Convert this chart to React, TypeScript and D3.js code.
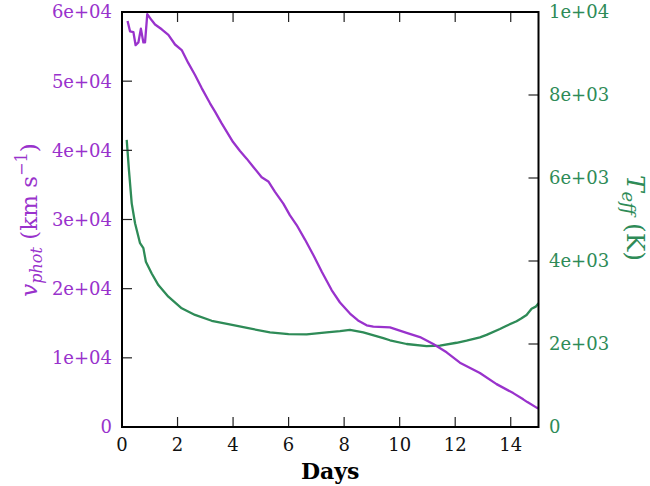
import React from "react";
import * as d3 from "d3";

// v_phot (left axis, km/s)
const vDays = [0.2, 0.29, 0.41, 0.49, 0.59, 0.68, 0.77, 0.83, 0.91, 1.07, 1.19, 1.43, 1.67, 1.91, 2.15, 2.39, 2.63, 2.87, 3.17, 3.35, 3.59, 4.0, 4.25, 4.49, 4.73, 5.03, 5.27, 5.51, 5.81, 6.05, 6.29, 6.59, 6.9, 7.2, 7.55, 7.85, 8.21, 8.5, 8.81, 9.05, 9.65, 10.25, 10.73, 11.21, 11.69, 12.17, 12.89, 13.49, 14.09, 14.45, 14.6, 14.93, 15.0];
const vValues = [58700, 57200, 57100, 55200, 55600, 57600, 55600, 55600, 59700, 58800, 58200, 57500, 56700, 55300, 54500, 52600, 50900, 49000, 46800, 45600, 43900, 41200, 39900, 38800, 37600, 36100, 35500, 34000, 32300, 30600, 29200, 27100, 24800, 22400, 19800, 18000, 16400, 15400, 14700, 14500, 14400, 13600, 13000, 12000, 10800, 9300, 7800, 6200, 4900, 4000, 3600, 2800, 2700];

// T_eff (right axis, K)
const tDays = [0.17, 0.25, 0.35, 0.47, 0.65, 0.77, 0.86, 1.07, 1.31, 1.67, 2.15, 2.63, 3.23, 3.83, 4.55, 5.33, 6.0, 6.65, 7.37, 7.85, 8.21, 8.69, 9.41, 9.65, 10.25, 10.97, 11.45, 12.05, 12.41, 12.89, 13.13, 13.61, 13.85, 14.21, 14.39, 14.57, 14.75, 14.9, 15.0];
const tValues = [6920, 6190, 5390, 4910, 4430, 4310, 3980, 3700, 3420, 3140, 2860, 2700, 2560, 2480, 2380, 2280, 2240, 2230, 2280, 2310, 2340, 2280, 2140, 2090, 2000, 1950, 1960, 2030, 2080, 2160, 2220, 2360, 2440, 2550, 2620, 2700, 2850, 2900, 2980];

const xTicks = [0, 2, 4, 6, 8, 10, 12, 14];
const leftTicks = [0, 10000, 20000, 30000, 40000, 50000, 60000];
const leftTickLabels = ["0", "1e+04", "2e+04", "3e+04", "4e+04", "5e+04", "6e+04"];
const rightTicks = [0, 2000, 4000, 6000, 8000, 10000];
const rightTickLabels = ["0", "2e+03", "4e+03", "6e+03", "8e+03", "1e+04"];

const PURPLE = "#9932CC";
const GREEN = "#2E8B57";
const FONT = "'DejaVu Serif', serif";

export default function App() {
  const W = 650, H = 486;
  const L = 122, R = 538.5, T = 12, B = 427;
  const x = d3.scaleLinear().domain([0, 15]).range([L, R]);
  const yL = d3.scaleLinear().domain([0, 60000]).range([B, T]);
  const yR = d3.scaleLinear().domain([0, 10000]).range([B, T]);

  const vLine = d3.line<number>().x((_, i) => x(vDays[i])).y((d) => yL(d));
  const tLine = d3.line<number>().x((_, i) => x(tDays[i])).y((d) => yR(d));

  return (
    <svg width={W} height={H} style={{ position: "absolute", left: 0, top: 0, background: "#fff" }} fontFamily={FONT}>
      <rect x={0} y={0} width={W} height={H} fill="#fff" />
      <path d={tLine(tValues) || ""} fill="none" stroke={GREEN} strokeWidth={2.3} strokeLinejoin="round" />
      <path d={vLine(vValues) || ""} fill="none" stroke={PURPLE} strokeWidth={2.3} strokeLinejoin="round" />

      {/* x ticks top & bottom */}
      {xTicks.map((t) => (
        <g key={"x" + t}>
          <line x1={x(t)} x2={x(t)} y1={B} y2={B - 10} stroke="#222" strokeWidth={1.2} />
          <line x1={x(t)} x2={x(t)} y1={T} y2={T + 10} stroke="#222" strokeWidth={1.2} />
          <text x={x(t)} y={451} textAnchor="middle" fontSize={18} fill="#111">{t}</text>
        </g>
      ))}
      {/* left ticks */}
      {leftTicks.map((t, i) => (
        <g key={"l" + t}>
          <line x1={L} x2={L + 10} y1={yL(t)} y2={yL(t)} stroke="#222" strokeWidth={1.2} />
          <text x={112} y={yL(t)} dy="0.36em" textAnchor="end" fontSize={18} fill={PURPLE}>{leftTickLabels[i]}</text>
        </g>
      ))}
      {/* right ticks */}
      {rightTicks.map((t, i) => (
        <g key={"r" + t}>
          <line x1={R} x2={R - 10} y1={yR(t)} y2={yR(t)} stroke="#222" strokeWidth={1.2} />
          <text x={549} y={yR(t)} dy="0.36em" textAnchor="start" fontSize={18} fill={GREEN}>{rightTickLabels[i]}</text>
        </g>
      ))}

      <rect x={L} y={T} width={R - L} height={B - T} fill="none" stroke="#000" strokeWidth={2} />

      <text x={(L + R) / 2} y={479} textAnchor="middle" fontSize={22} fontWeight="bold" fill="#000">Days</text>

      <text transform="translate(37,220) rotate(-90)" textAnchor="middle" fontSize={23} fill={PURPLE}>
        <tspan fontStyle="italic">v</tspan>
        <tspan fontStyle="italic" fontSize={16} dy={5}>phot</tspan>
        <tspan dy={-5}> (km s</tspan>
        <tspan fontSize={16} dy={-10}>−1</tspan>
        <tspan dy={10}>)</tspan>
      </text>

      <text transform="translate(627,218) rotate(90)" textAnchor="middle" fontSize={25} fill={GREEN}>
        <tspan fontStyle="italic">T</tspan>
        <tspan fontStyle="italic" fontSize={18} dy={5}>eff</tspan>
        <tspan dy={-5}> (K)</tspan>
      </text>
    </svg>
  );
}
